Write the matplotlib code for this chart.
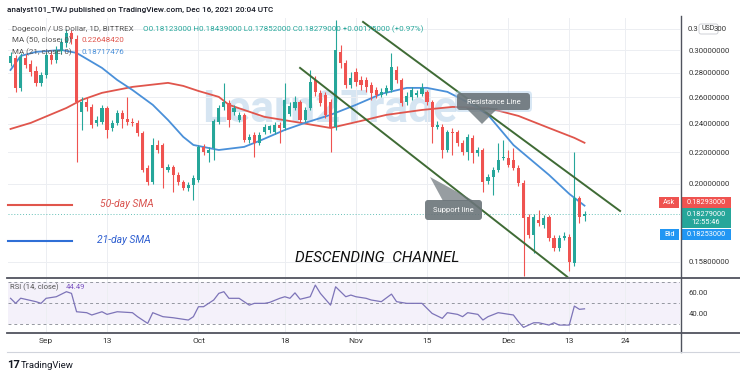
import matplotlib
matplotlib.use('Agg')
import matplotlib.pyplot as plt
import numpy as np
from matplotlib.patches import FancyBboxPatch, Polygon, Rectangle
from matplotlib.ticker import NullLocator, NullFormatter

plt.rcParams['font.family'] = ['Roboto', 'DejaVu Sans']

# day index: 0 = Sep 1, 2021 (first candle Aug 25, last Dec 16)
days = np.arange(-7, 107)

opens = [0.2885, 0.2929, 0.2675, 0.2929, 0.2877, 0.2816, 0.2716, 0.2782, 0.2956, 0.2911,
         0.2992, 0.3066, 0.3160, 0.3103, 0.2487, 0.2564, 0.2525, 0.2406, 0.2413, 0.2517,
         0.2369, 0.2406, 0.2480, 0.2435, 0.2413, 0.2406, 0.2334, 0.2099, 0.2012, 0.2250,
         0.2250, 0.2086, 0.2105, 0.2055, 0.2012, 0.1976, 0.1994, 0.2024, 0.2237, 0.2197,
         0.2230, 0.2413, 0.2525, 0.2556, 0.2487, 0.2427, 0.2465, 0.2285, 0.2320, 0.2264,
         0.2341, 0.2355, 0.2341, 0.2391, 0.2369, 0.2472, 0.2517, 0.2564, 0.2427, 0.2517,
         0.2740, 0.2635, 0.2619, 0.2564, 0.2377, 0.2983, 0.2885, 0.2699, 0.2808, 0.2740,
         0.2740, 0.2699, 0.2658, 0.2619, 0.2635, 0.2658, 0.2824, 0.2740, 0.2564, 0.2603,
         0.2619, 0.2627, 0.2643, 0.2564, 0.2377, 0.2377, 0.2216, 0.2341, 0.2341, 0.2264,
         0.2203, 0.2299, 0.2197, 0.2216, 0.2018, 0.2043, 0.2086, 0.2164, 0.2164, 0.2150,
         0.2099, 0.2006, 0.1809, 0.1713, 0.1793, 0.1766, 0.1809, 0.1698, 0.1647, 0.1698,
         0.1703, 0.1574, 0.1917, 0.18123]
highs = [0.2983, 0.2956, 0.2974, 0.2965, 0.2911, 0.2859, 0.2808, 0.2983, 0.3001, 0.3038,
         0.3112, 0.3198, 0.3188, 0.3141, 0.2603, 0.2603, 0.2548, 0.2457, 0.2541, 0.2533,
         0.2427, 0.2502, 0.2502, 0.2603, 0.2442, 0.2427, 0.2348, 0.2118, 0.2299, 0.2285,
         0.2264, 0.2124, 0.2118, 0.2074, 0.2024, 0.2012, 0.2055, 0.2250, 0.2257, 0.2237,
         0.2435, 0.2541, 0.2716, 0.2579, 0.2541, 0.2487, 0.2480, 0.2327, 0.2341, 0.2341,
         0.2398, 0.2391, 0.2413, 0.2413, 0.2716, 0.2564, 0.2611, 0.2579, 0.2525, 0.2824,
         0.2774, 0.2658, 0.2643, 0.2587, 0.3286, 0.3047, 0.2911, 0.2808, 0.2842, 0.2774,
         0.2765, 0.2724, 0.2683, 0.2675, 0.2699, 0.2974, 0.2859, 0.2757, 0.2643, 0.2683,
         0.2658, 0.2716, 0.2658, 0.2579, 0.2420, 0.2398, 0.2355, 0.2369, 0.2355, 0.2285,
         0.2327, 0.2320, 0.2237, 0.2230, 0.2061, 0.2105, 0.2264, 0.2285, 0.2216, 0.2230,
         0.2118, 0.2024, 0.1826, 0.1826, 0.1848, 0.1820, 0.1820, 0.1713, 0.1713, 0.1729,
         0.1719, 0.2203, 0.1928, 0.18439]
lows = [0.2859, 0.2643, 0.2650, 0.2842, 0.2774, 0.2691, 0.2691, 0.2757, 0.2877, 0.2885,
        0.2965, 0.3029, 0.3058, 0.2137, 0.2355, 0.2495, 0.2369, 0.2384, 0.2398, 0.2299,
        0.2348, 0.2391, 0.2369, 0.2391, 0.2384, 0.2313, 0.2074, 0.1994, 0.2000, 0.2197,
        0.1976, 0.2074, 0.1952, 0.1994, 0.1963, 0.1958, 0.1905, 0.2012, 0.2183, 0.2137,
        0.2150, 0.2398, 0.2502, 0.2377, 0.2465, 0.2413, 0.2271, 0.2264, 0.2170, 0.2250,
        0.2327, 0.2334, 0.2327, 0.2264, 0.2355, 0.2457, 0.2502, 0.2413, 0.2413, 0.2502,
        0.2611, 0.2533, 0.2442, 0.2203, 0.2355, 0.2842, 0.2675, 0.2675, 0.2691, 0.2658,
        0.2643, 0.2579, 0.2595, 0.2603, 0.2619, 0.2643, 0.2716, 0.2533, 0.2541, 0.2579,
        0.2603, 0.2611, 0.2541, 0.2264, 0.2362, 0.2164, 0.2203, 0.2183, 0.2244, 0.2183,
        0.2150, 0.2131, 0.2177, 0.1952, 0.2000, 0.1934, 0.2074, 0.2150, 0.2105, 0.2086,
        0.1988, 0.1513, 0.1698, 0.1622, 0.1761, 0.1750, 0.1682, 0.1632, 0.1632, 0.1687,
        0.1536, 0.1560, 0.1777, 0.17852]
closes = [0.2947, 0.2675, 0.2938, 0.2868, 0.2808, 0.2716, 0.2782, 0.2956, 0.2911, 0.3001,
          0.3075, 0.3160, 0.3103, 0.2564, 0.2564, 0.2525, 0.2391, 0.2427, 0.2517, 0.2355,
          0.2406, 0.2480, 0.2435, 0.2413, 0.2406, 0.2334, 0.2086, 0.2012, 0.2250, 0.2216,
          0.2099, 0.2105, 0.2055, 0.2012, 0.1976, 0.1994, 0.2037, 0.2237, 0.2203, 0.2216,
          0.2420, 0.2517, 0.2564, 0.2427, 0.2517, 0.2465, 0.2285, 0.2306, 0.2264, 0.2320,
          0.2377, 0.2384, 0.2391, 0.2369, 0.2579, 0.2533, 0.2564, 0.2427, 0.2502, 0.2724,
          0.2643, 0.2556, 0.2465, 0.2377, 0.3001, 0.2885, 0.2699, 0.2757, 0.2724, 0.2699,
          0.2683, 0.2635, 0.2619, 0.2643, 0.2675, 0.2851, 0.2740, 0.2556, 0.2611, 0.2658,
          0.2635, 0.2675, 0.2564, 0.2377, 0.2391, 0.2216, 0.2341, 0.2334, 0.2264, 0.2203,
          0.2306, 0.2197, 0.2216, 0.2012, 0.2043, 0.2086, 0.2150, 0.2170, 0.2118, 0.2099,
          0.2006, 0.1804, 0.1713, 0.1809, 0.1777, 0.1804, 0.1698, 0.1647, 0.1698, 0.1708,
          0.1579, 0.1917, 0.1810, 0.18279]

ma50_days = [-7, -3, 4, 7, 11, 17, 24, 27, 30, 34, 36, 43, 49, 56, 62, 67, 74, 80, 87, 93, 99, 104, 106]
ma50 = [0.2362, 0.2406, 0.2517, 0.2579, 0.2635, 0.2683, 0.2716, 0.2691, 0.2650, 0.2603, 0.2541, 0.2450,
        0.2413, 0.2369, 0.2420, 0.2465, 0.2502, 0.2525, 0.2517, 0.2457, 0.2369, 0.2299, 0.2265]
ma21_days = [-7, -5, -2, 3, 6, 11, 14, 17, 21, 24, 27, 29, 34, 39, 42, 47, 51, 56, 61, 66, 71, 75,
             79, 84, 87, 92, 99, 103, 106]
ma21 = [0.2824, 0.2947, 0.2983, 0.3001, 0.2974, 0.2842, 0.2740, 0.2658, 0.2541, 0.2427, 0.2306,
        0.2250, 0.2216, 0.2237, 0.2278, 0.2355, 0.2406, 0.2465, 0.2541, 0.2627, 0.2675, 0.2675,
        0.2643, 0.2541, 0.2465, 0.2250, 0.2055, 0.1940, 0.1872]

rsi_days = [-7, -6, -5, -2, -1, 0, 2, 4, 5, 6, 8, 9, 11, 12, 14, 17, 18, 20, 21, 23, 25, 28, 29, 30,
            31, 33, 34, 35, 36, 38, 40, 41, 43, 44, 46, 47, 48, 49, 50, 52, 53, 54, 56, 57, 59, 60,
            61, 63, 64, 66, 68, 69, 71, 73, 74, 76, 78, 79, 81, 82, 83, 85, 86, 87, 89, 90, 92, 93,
            94, 96, 97, 99, 100, 101, 103, 104, 105, 106]
rsi = [54.5, 49.7, 54.6, 51.3, 49.7, 54.5, 56, 60.8, 59.2, 41.7, 40.8, 38.6, 41.7, 39.2, 41.7, 40.8,
       37, 30.6, 40.8, 37, 36, 33.8, 37, 46.5, 46.5, 52.9, 59.2, 60.8, 54.5, 54.5, 48, 49.7, 49.7,
       50.6, 54.5, 56, 54.5, 59.7, 53.6, 56, 67.1, 59.2, 48, 65.5, 56, 57.6, 56, 54.5, 52.9, 51.3,
       58.5, 51.3, 49.7, 49.7, 49.7, 40.1, 35.4, 40.8, 39.2, 37, 40.8, 39.2, 33.8, 37, 40.8, 40.1,
       38.6, 32.2, 26.8, 31.2, 31.2, 29, 31.2, 29, 29, 47.1, 44, 44.49]

# channel trendlines (day, price)
upper_line = ([62.4, 113], [0.3267, 0.1842])
lower_line = ([50, 102.6], [0.2842, 0.1509])

price_ticks = [0.158, 0.20, 0.22, 0.24, 0.26, 0.28, 0.30, 0.32]
price_labels = ['0.15800000', '0.20000000', '0.22000000', '0.24000000', '0.26000000',
                '0.28000000', '0.30000000', '']  # top label is covered by the USD badge
date_ticks = [0, 12, 30, 47, 61, 75, 91, 103, 114]
date_labels = ['Sep', '13', 'Oct', '18', 'Nov', '15', 'Dec', '13', '24']

UP, DOWN = '#26a69a', '#ef5350'
RED_MA, BLUE_MA = '#e0554c', '#4a90d9'

W, H = 740, 377
fig = plt.figure(figsize=(W / 100, H / 100), dpi=100, facecolor='white')


def px_box(x0, y0, x1, y1):
    return [x0 / W, 1 - y1 / H, (x1 - x0) / W, (y1 - y0) / H]


ax = fig.add_axes(px_box(8, 18, 680, 277))
rax = fig.add_axes(px_box(8, 279, 680, 332), sharex=ax)
ov = fig.add_axes([0, 0, 1, 1], zorder=10)
ov.set_xlim(0, W)
ov.set_ylim(H, 0)
ov.axis('off')

# ---- main price pane
o = np.array(opens); h = np.array(highs); l = np.array(lows); c = np.array(closes)
cols = np.where(c >= o, UP, DOWN)
ax.set_yscale('log')
ax.vlines(days, l, h, colors=cols, lw=0.8, zorder=4)
ax.bar(days, np.maximum(np.abs(c - o), 0.0008), bottom=np.minimum(o, c), width=0.62,
       color=cols, linewidth=0, zorder=5)
ax.plot(ma50_days, ma50, color=RED_MA, lw=1.3, zorder=3)
ax.plot(ma21_days, ma21, color=BLUE_MA, lw=1.3, zorder=3)
ax.plot(*upper_line, color='#3f6b35', lw=1.4, zorder=6)
ax.plot(*lower_line, color='#3f6b35', lw=1.4, zorder=6)
ax.axhline(closes[-1], color=UP, ls=(0, (1, 2)), lw=0.7, alpha=0.7, zorder=2)

ax.set_xlim(-7.5, 124.8)
ax.set_ylim(0.1508, 0.3306)
ax.yaxis.set_minor_locator(NullLocator())
ax.yaxis.set_minor_formatter(NullFormatter())
ax.set_yticks(price_ticks)
ax.set_yticklabels(price_labels)
ax.yaxis.tick_right()
ax.tick_params(axis='y', length=0, pad=6, labelsize=5.6, labelcolor='#333333')
ax.tick_params(axis='x', length=0, labelbottom=False)
ax.grid(True, color='#eceef2', lw=0.7, zorder=0)
for s in ax.spines.values():
    s.set_visible(False)

# watermark
ax.text(330, 110, 'Learn2Trade', transform=ov.transData, fontsize=32, fontweight='bold',
        color='#bcd5ea', alpha=0.6, ha='center', va='center', zorder=1)

# ---- RSI pane
rax.axhspan(30, 70, color='#7e57c2', alpha=0.08, lw=0)
for lvl in (70, 50, 30):
    rax.axhline(lvl, color='#9598a1', ls=(0, (3, 3)), lw=0.7)
rax.plot(rsi_days, rsi, color='#7d74b8', lw=0.9)
rax.set_ylim(22.4, 72.9)
rax.set_yticks([40, 60])
rax.set_yticklabels(['40.00', '60.00'])
rax.yaxis.tick_right()
rax.tick_params(axis='y', length=0, pad=6, labelsize=5.6, labelcolor='#333333')
rax.set_xticks(date_ticks)
rax.set_xticklabels(date_labels)
rax.tick_params(axis='x', length=0, pad=4, labelsize=6, labelcolor='#333333')
rax.grid(True, axis='x', color='#eceef2', lw=0.7)
for s in rax.spines.values():
    s.set_visible(False)

# ---- frame lines
ov.plot([7, 740], [277.5, 277.5], color='#50535e', lw=1.3)
ov.plot([7, 740], [332.5, 332.5], color='#50535e', lw=1.3)
ov.plot([680.5, 680.5], [16, 352], color='#50535e', lw=1.0)
ov.plot([7, 740], [352, 352], color='#d1d4dc', lw=0.8)

# ---- header texts
ov.text(7, 10, 'analyst101_TWJ published on TradingView.com, Dec 16, 2021 20:04 UTC',
        fontsize=5.9, color='#131722', fontweight='medium', va='center')
ov.text(12, 29, 'Dogecoin / US Dollar, 1D, BITTREX', fontsize=5.8, color='#555555', va='center')
ov.text(143, 29, 'O0.18123000 H0.18439000 L0.17852000 C0.18279000 +0.00175000 (+0.97%)',
        fontsize=5.8, color=UP, va='center')
ov.text(12, 40, 'MA (50, close, 0)', fontsize=5.8, color='#555555', va='center')
ov.text(81, 40, '0.22648420', fontsize=5.8, color=RED_MA, va='center')
ov.text(12, 52, 'MA (21, close, 0)', fontsize=5.8, color='#555555', va='center')
ov.text(81, 52, '0.18717476', fontsize=5.8, color=BLUE_MA, va='center')
ov.text(10, 287, 'RSI (14, close)', fontsize=5.5, color='#555555', va='center')
ov.text(66, 287, '44.49', fontsize=5.5, color='#7e57c2', va='center')

# ---- legend-like notes
ov.plot([8, 72], [205, 205], color=RED_MA, lw=1.5)
ov.text(100, 204, '50-day SMA', fontsize=7.5, style='italic', color='#d9534f', va='center')
ov.plot([8, 72], [241, 241], color='#2f6fd6', lw=1.5)
ov.text(97, 240, '21-day SMA', fontsize=7.5, style='italic', color='#2f5fd0', va='center')
ov.text(377, 258, 'DESCENDING  CHANNEL', fontsize=11, style='italic', color='#111111',
        ha='center', va='center')

# ---- callouts
ov.add_patch(FancyBboxPatch((455, 91), 77, 21, boxstyle='round,pad=0,rounding_size=4',
                            fc='#a9cbe8', ec='none', alpha=0.45))
ov.add_patch(Polygon([(466, 108), (498, 108), (482, 124)], closed=True, fc='#6b7479', alpha=0.8, ec='none'))
ov.add_patch(FancyBboxPatch((457, 93), 73, 17, boxstyle='round,pad=0,rounding_size=3',
                            fc='#6b7479', ec='none', alpha=0.9))
ov.text(493.5, 101.5, 'Resistance Line', fontsize=5.5, color='white', ha='center', va='center')

ov.add_patch(Polygon([(430, 177), (443, 201), (474, 201)], closed=True, fc='#6b7479', alpha=0.7, ec='none'))
ov.add_patch(FancyBboxPatch((425, 200), 57, 20, boxstyle='round,pad=0,rounding_size=3',
                            fc='#6b7479', ec='none', alpha=0.9))
ov.text(453.5, 210, 'Support line', fontsize=5.5, color='white', ha='center', va='center')

# ---- price scale tags


def tag(x0, y0, x1, y1, color, text):
    ov.add_patch(Rectangle((x0, y0), x1 - x0, y1 - y0, fc=color, ec='none'))
    ov.text((x0 + x1) / 2, (y0 + y1) / 2, text, fontsize=5.3, color='white',
            ha='center', va='center', linespacing=1.2)


tag(659, 197, 679, 208, DOWN, 'Ask')
tag(681, 197, 731, 208, DOWN, '0.18293000')
tag(681, 208, 731, 228, UP, '0.18279000\n12:55:46')
tag(660, 229, 679, 240, '#2196f3', 'Bid')
tag(681, 229, 731, 240, '#2196f3', '0.18253000')
# top price label partly hidden behind the currency badge
ov.text(688, 29, '0.3', fontsize=5.6, color='#333333', va='center')
ov.text(727, 29, '300', fontsize=5.6, color='#333333', va='center', ha='right')
ov.add_patch(FancyBboxPatch((699, 24), 19, 10, boxstyle='round,pad=0,rounding_size=2',
                            fc='white', ec='#c8cad0', lw=0.6))
ov.text(708.5, 29, 'USD', fontsize=5.0, color='#333333', ha='center', va='center')

# ---- footer
ov.text(7, 365, '17', fontsize=8, fontweight='bold', color='#131722', va='center')
ov.text(21, 365, 'TradingView', fontsize=6.8, color='#131722', va='center')

fig.savefig('out.png', dpi=100)
